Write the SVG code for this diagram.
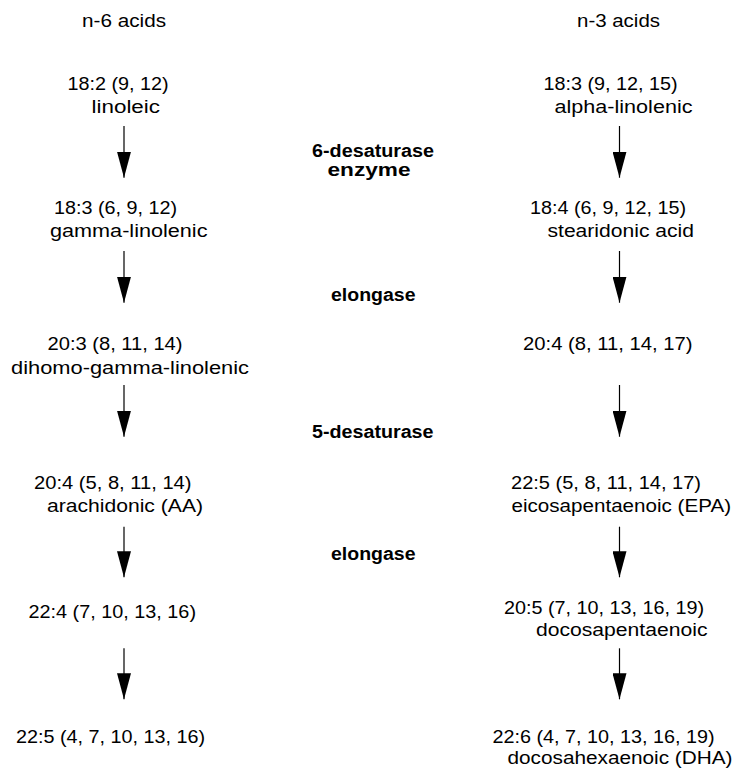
<svg xmlns="http://www.w3.org/2000/svg" width="735" height="770" viewBox="0 0 735 770">
<defs>
<style>
text{font-family:"Liberation Sans",Arial,sans-serif;font-size:17.5px;fill:#000;}
.b{font-weight:bold;}
.c line{stroke:#000;stroke-width:1.2;marker-end:url(#ah);}
</style>
<marker id="ah" viewBox="0 -7 26 14" refX="26" refY="0" markerUnits="userSpaceOnUse" markerWidth="26" markerHeight="14" orient="auto">
<path d="M0,-7 L26,0 L0,7 z" fill="#000"/>
</marker>
</defs>
<rect width="735" height="770" fill="#fff"/>
<g id="hdr-n6"><text x="82" y="26.5" textLength="84" lengthAdjust="spacingAndGlyphs">n-6 acids</text></g>
<g id="hdr-n3"><text x="577" y="26.5" textLength="83" lengthAdjust="spacingAndGlyphs">n-3 acids</text></g>
<g id="n6-1"><text x="67.5" y="89.5" textLength="101" lengthAdjust="spacingAndGlyphs">18:2 (9, 12)</text><text x="91.5" y="113" textLength="68.5" lengthAdjust="spacingAndGlyphs">linoleic</text></g>
<g id="n6-2"><text x="54" y="213.5" textLength="123" lengthAdjust="spacingAndGlyphs">18:3 (6, 9, 12)</text><text x="50" y="237" textLength="157.5" lengthAdjust="spacingAndGlyphs">gamma-linolenic</text></g>
<g id="n6-3"><text x="47.5" y="350" textLength="135" lengthAdjust="spacingAndGlyphs">20:3 (8, 11, 14)</text><text x="11" y="373.5" textLength="238" lengthAdjust="spacingAndGlyphs">dihomo-gamma-linolenic</text></g>
<g id="n6-4"><text x="34" y="488.5" textLength="157.5" lengthAdjust="spacingAndGlyphs">20:4 (5, 8, 11, 14)</text><text x="47" y="512" textLength="156" lengthAdjust="spacingAndGlyphs">arachidonic (AA)</text></g>
<g id="n6-5"><text x="28.5" y="618" textLength="167.5" lengthAdjust="spacingAndGlyphs">22:4 (7, 10, 13, 16)</text></g>
<g id="n6-6"><text x="16" y="743" textLength="189" lengthAdjust="spacingAndGlyphs">22:5 (4, 7, 10, 13, 16)</text></g>
<g id="n3-1"><text x="543.5" y="89.5" textLength="134" lengthAdjust="spacingAndGlyphs">18:3 (9, 12, 15)</text><text x="554.5" y="113" textLength="138" lengthAdjust="spacingAndGlyphs">alpha-linolenic</text></g>
<g id="n3-2"><text x="530" y="213.5" textLength="156" lengthAdjust="spacingAndGlyphs">18:4 (6, 9, 12, 15)</text><text x="547.5" y="237" textLength="146.5" lengthAdjust="spacingAndGlyphs">stearidonic acid</text></g>
<g id="n3-3"><text x="523" y="350" textLength="169.5" lengthAdjust="spacingAndGlyphs">20:4 (8, 11, 14, 17)</text></g>
<g id="n3-4"><text x="511" y="488.5" textLength="190" lengthAdjust="spacingAndGlyphs">22:5 (5, 8, 11, 14, 17)</text><text x="511.5" y="512" textLength="219.5" lengthAdjust="spacingAndGlyphs">eicosapentaenoic (EPA)</text></g>
<g id="n3-5"><text x="504" y="614" textLength="200" lengthAdjust="spacingAndGlyphs">20:5 (7, 10, 13, 16, 19)</text><text x="536" y="636" textLength="171.5" lengthAdjust="spacingAndGlyphs">docosapentaenoic</text></g>
<g id="n3-6"><text x="492.5" y="743" textLength="222" lengthAdjust="spacingAndGlyphs">22:6 (4, 7, 10, 13, 16, 19)</text><text x="507.5" y="764" textLength="225" lengthAdjust="spacingAndGlyphs">docosahexaenoic (DHA)</text></g>
<g id="enz-1"><text class="b" x="312" y="156.5" textLength="122" lengthAdjust="spacingAndGlyphs">6-desaturase</text><text class="b" x="327.5" y="176" textLength="83" lengthAdjust="spacingAndGlyphs">enzyme</text></g>
<g id="enz-2"><text class="b" x="331" y="301" textLength="84.5" lengthAdjust="spacingAndGlyphs">elongase</text></g>
<g id="enz-3"><text class="b" x="312" y="438" textLength="121.5" lengthAdjust="spacingAndGlyphs">5-desaturase</text></g>
<g id="enz-4"><text class="b" x="331" y="560" textLength="84.5" lengthAdjust="spacingAndGlyphs">elongase</text></g>
<g id="connectors" class="c">
<line x1="124" y1="126" x2="124" y2="177.7"/>
<line x1="124" y1="251" x2="124" y2="302.7"/>
<line x1="124" y1="385" x2="124" y2="436.7"/>
<line x1="124" y1="526.7" x2="124" y2="577.3"/>
<line x1="124" y1="648.3" x2="124" y2="699.3"/>
<line x1="619.5" y1="126" x2="619.5" y2="177.7"/>
<line x1="619.5" y1="251" x2="619.5" y2="302.7"/>
<line x1="619.5" y1="385" x2="619.5" y2="436.7"/>
<line x1="619.5" y1="526.7" x2="619.5" y2="577.3"/>
<line x1="619.5" y1="648.3" x2="619.5" y2="699.3"/>
</g>
</svg>
